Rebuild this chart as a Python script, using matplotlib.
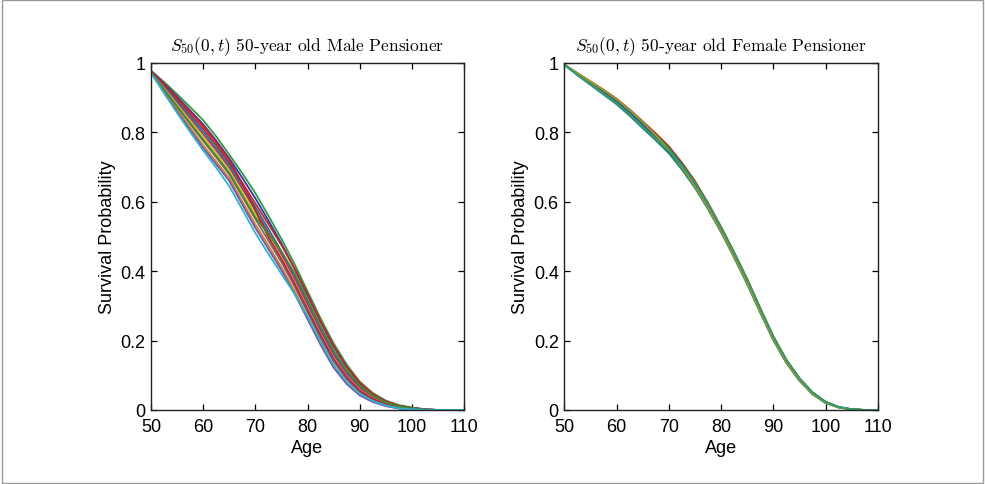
import matplotlib
matplotlib.use("Agg")
import matplotlib.pyplot as plt
from matplotlib.patches import Rectangle

# ---------------- data ----------------
ages = [50, 52.5, 55, 57.5, 60, 62.5, 65, 67.5, 70, 72.5, 75, 77.5, 80,
        82.5, 85, 87.5, 90, 92.5, 95, 97.5, 100, 102.5, 105, 107.5, 110]

male_curves = [
    [0.978, 0.945, 0.910, 0.873, 0.835, 0.788, 0.736, 0.682, 0.625, 0.560, 0.493, 0.421, 0.342,
     0.264, 0.192, 0.131, 0.082, 0.049, 0.027, 0.014, 0.007, 0.002, 0.0, 0.0, 0.0],
    [0.977, 0.941, 0.903, 0.863, 0.823, 0.776, 0.725, 0.669, 0.610, 0.546, 0.480, 0.408, 0.330,
     0.253, 0.182, 0.123, 0.076, 0.045, 0.025, 0.012, 0.006, 0.002, 0.0, 0.0, 0.0],
    [0.976, 0.936, 0.895, 0.853, 0.811, 0.764, 0.713, 0.655, 0.595, 0.536, 0.475, 0.408, 0.334,
     0.256, 0.185, 0.125, 0.078, 0.046, 0.025, 0.013, 0.006, 0.002, 0.0, 0.0, 0.0],
    [0.976, 0.933, 0.890, 0.847, 0.803, 0.756, 0.706, 0.646, 0.585, 0.522, 0.457, 0.387, 0.310,
     0.234, 0.164, 0.109, 0.066, 0.039, 0.021, 0.010, 0.005, 0.001, 0.0, 0.0, 0.0],
    [0.975, 0.930, 0.885, 0.840, 0.795, 0.748, 0.698, 0.637, 0.575, 0.512, 0.448, 0.378, 0.302,
     0.226, 0.157, 0.103, 0.062, 0.036, 0.019, 0.009, 0.004, 0.001, 0.0, 0.0, 0.0],
    [0.974, 0.927, 0.880, 0.833, 0.787, 0.740, 0.690, 0.628, 0.565, 0.502, 0.439, 0.369, 0.294,
     0.218, 0.150, 0.097, 0.058, 0.033, 0.017, 0.008, 0.003, 0.001, 0.0, 0.0, 0.0],
    [0.974, 0.923, 0.873, 0.824, 0.775, 0.728, 0.679, 0.615, 0.550, 0.488, 0.426, 0.357, 0.282,
     0.207, 0.140, 0.089, 0.052, 0.030, 0.015, 0.007, 0.003, 0.001, 0.0, 0.0, 0.0],
    [0.973, 0.918, 0.865, 0.814, 0.763, 0.716, 0.668, 0.601, 0.535, 0.474, 0.412, 0.344, 0.270,
     0.196, 0.129, 0.081, 0.046, 0.026, 0.013, 0.005, 0.002, 0.0, 0.0, 0.0, 0.0],
    [0.977, 0.939, 0.900, 0.860, 0.819, 0.772, 0.721, 0.651, 0.575, 0.498, 0.435, 0.365, 0.290,
     0.215, 0.147, 0.095, 0.056, 0.032, 0.017, 0.008, 0.003, 0.001, 0.0, 0.0, 0.0],
    [0.974, 0.924, 0.875, 0.827, 0.779, 0.732, 0.683, 0.619, 0.555, 0.507, 0.457, 0.395, 0.318,
     0.241, 0.171, 0.114, 0.070, 0.041, 0.022, 0.011, 0.005, 0.001, 0.0, 0.0, 0.0],
    [0.972, 0.915, 0.860, 0.807, 0.755, 0.708, 0.660, 0.592, 0.525, 0.464, 0.403, 0.335, 0.262,
     0.188, 0.122, 0.075, 0.042, 0.023, 0.011, 0.004, 0.001, 0.0, 0.0, 0.0, 0.0],
    [0.972, 0.913, 0.856, 0.801, 0.748, 0.698, 0.645, 0.578, 0.510, 0.450, 0.392, 0.335, 0.270,
     0.196, 0.129, 0.081, 0.046, 0.026, 0.013, 0.005, 0.002, 0.0, 0.0, 0.0, 0.0],
]

female_curves = [
    [0.995, 0.971, 0.947, 0.923, 0.897, 0.866, 0.832, 0.797, 0.760, 0.713, 0.660, 0.597, 0.528,
     0.455, 0.378, 0.294, 0.213, 0.145, 0.092, 0.051, 0.024, 0.009, 0.002, 0.0, 0.0],
    [0.995, 0.970, 0.945, 0.920, 0.893, 0.862, 0.827, 0.792, 0.755, 0.708, 0.655, 0.593, 0.524,
     0.451, 0.374, 0.291, 0.210, 0.143, 0.090, 0.050, 0.023, 0.008, 0.002, 0.0, 0.0],
    [0.995, 0.968, 0.942, 0.916, 0.889, 0.857, 0.822, 0.787, 0.750, 0.703, 0.650, 0.588, 0.520,
     0.447, 0.370, 0.287, 0.207, 0.140, 0.088, 0.048, 0.022, 0.008, 0.002, 0.0, 0.0],
    [0.995, 0.967, 0.940, 0.913, 0.885, 0.853, 0.817, 0.782, 0.745, 0.698, 0.645, 0.584, 0.516,
     0.443, 0.366, 0.284, 0.204, 0.138, 0.086, 0.047, 0.021, 0.008, 0.002, 0.0, 0.0],
    [0.995, 0.965, 0.937, 0.909, 0.881, 0.848, 0.812, 0.777, 0.740, 0.693, 0.640, 0.579, 0.512,
     0.439, 0.362, 0.280, 0.201, 0.135, 0.084, 0.045, 0.020, 0.007, 0.002, 0.0, 0.0],
    [0.995, 0.970, 0.946, 0.922, 0.895, 0.864, 0.830, 0.791, 0.750, 0.699, 0.644, 0.583, 0.515,
     0.442, 0.365, 0.283, 0.203, 0.137, 0.086, 0.046, 0.021, 0.007, 0.002, 0.0, 0.0],
    [0.995, 0.966, 0.938, 0.911, 0.883, 0.851, 0.815, 0.780, 0.747, 0.704, 0.654, 0.594, 0.526,
     0.453, 0.376, 0.292, 0.211, 0.144, 0.091, 0.050, 0.023, 0.009, 0.002, 0.0, 0.0],
]

xticks = [50, 60, 70, 80, 90, 100, 110]
yticks = [0, 0.2, 0.4, 0.6, 0.8, 1]
ytick_labels = ["0", "0.2", "0.4", "0.6", "0.8", "1"]
titles = [r"$S_{50}(0,t)$ 50-year old Male Pensioner",
          r"$S_{50}(0,t)$ 50-year old Female Pensioner"]

male_colors = ["#2a9d3a", "#1f3fa8", "#d0202e", "#12807c", "#b0289a", "#d8c21e",
               "#6e6e6e", "#e07b1a", "#c21f3a", "#3c8e2a", "#7a4fb0", "#27b8cf"]
female_colors = ["#c0303a", "#2a8a3a", "#1f4fa8", "#6e6e6e", "#12807c", "#9a9a20", "#2aa070"]

# ---------------- style ----------------
plt.rcParams["font.family"] = ["Liberation Sans", "DejaVu Sans"]
plt.rcParams["mathtext.fontset"] = "cm"

fig = plt.figure(figsize=(9.85, 4.85), dpi=100)
fig.patches.append(Rectangle((0.002, 0.003), 0.996, 0.994, transform=fig.transFigure,
                             fill=False, edgecolor="#9a9a9a", linewidth=1.0))

positions = [[0.1533, 0.1526, 0.3178, 0.7155],
             [0.5729, 0.1526, 0.3183, 0.7155]]

for k, (pos, curves, cols) in enumerate(zip(positions, [male_curves, female_curves],
                                             [male_colors, female_colors])):
    ax = fig.add_axes(pos)
    for i, c in enumerate(curves):
        ax.plot(ages, c, color=cols[i % len(cols)], lw=1.3)
    ax.set_xlim(50, 110)
    ax.set_ylim(0, 1)
    ax.set_xticks(xticks)
    ax.set_xticklabels([str(t) for t in xticks])
    ax.set_yticks(yticks)
    ax.set_yticklabels(ytick_labels)
    ax.tick_params(direction="in", length=4, width=0.9, top=True, right=True,
                   labelsize=13, colors="black")
    ax.tick_params(axis="x", pad=6)
    ax.tick_params(axis="y", pad=4)
    for s in ax.spines.values():
        s.set_linewidth(1.0)
        s.set_color("#222222")
    ax.set_xlabel("Age", fontsize=13, labelpad=3)
    ax.set_ylabel("Survival Probability", fontsize=13, labelpad=3)
    ax.set_title(titles[k], fontsize=12.5, family="cmr10", pad=9)

fig.savefig("out.png", dpi=100)
